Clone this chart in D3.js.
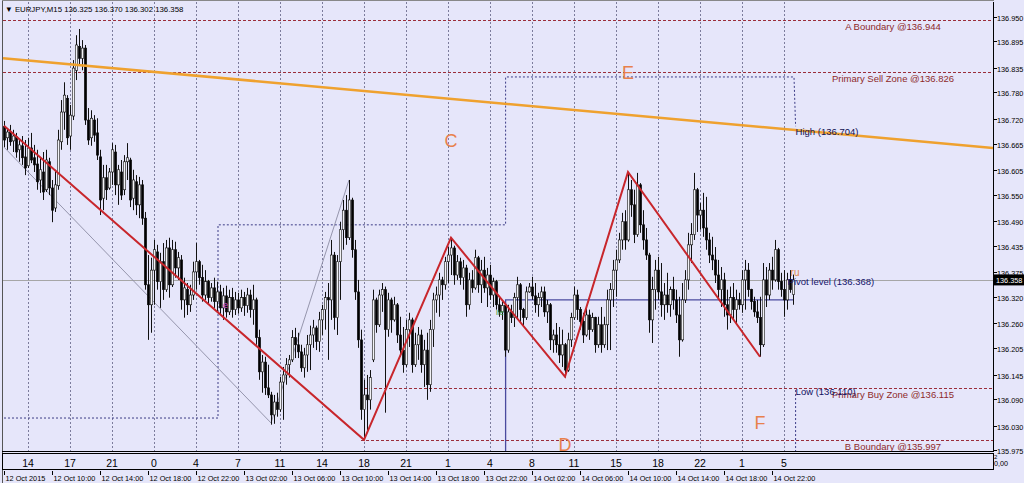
<!DOCTYPE html>
<html><head><meta charset="utf-8">
<script src="https://cdn.jsdelivr.net/npm/d3@7"></script>
<style>
body{margin:0;background:#E6E6FA;}
svg{display:block;font-family:"Liberation Sans",Arial,sans-serif;}
</style></head>
<body><svg id="chart" width="1024" height="483"></svg>
<script>
// ---------- DATA ----------
const symbol = "EURJPY,M15";
const candleStart = "2015-10-12T06:00:00Z";
const candleMinutes = 15;

const opens = [136.704,136.678,136.691,136.671,136.680,136.651,136.660,136.635,136.615,136.655,136.633,136.619,136.583,136.601,136.561,136.624,
136.565,136.520,136.570,136.669,136.736,136.767,136.682,136.727,136.830,136.884,136.857,136.880,136.718,136.678,136.718,136.689,
136.635,136.542,136.588,136.565,136.601,136.646,136.572,136.601,136.561,136.624,136.628,136.542,136.579,136.527,136.572,136.497,
136.347,136.302,136.380,136.421,136.354,136.399,136.336,136.430,136.347,136.426,136.385,136.403,136.313,136.336,136.302,136.324,
136.376,136.399,136.363,136.324,136.354,136.318,136.340,136.309,136.331,136.295,136.322,136.286,136.318,136.291,136.313,136.295,
136.318,136.300,136.324,136.291,136.313,136.228,136.151,136.173,136.115,136.099,136.054,136.083,136.066,136.128,136.144,136.167,
136.178,136.228,136.212,136.196,136.160,136.189,136.212,136.234,136.250,136.219,136.268,136.291,136.318,136.313,136.414,136.273,
136.399,136.471,136.515,136.453,136.538,136.426,136.331,136.223,136.066,136.099,136.088,136.178,136.313,136.257,136.324,136.336,
136.246,136.313,136.268,136.302,136.234,136.200,136.167,136.246,136.268,136.167,136.212,136.234,136.167,136.200,136.122,136.246,
136.313,136.324,136.358,136.347,136.399,136.414,136.430,136.369,136.399,136.363,136.385,136.302,136.358,136.340,136.408,136.347,
136.380,136.340,136.369,136.324,136.354,136.302,136.286,136.300,136.200,136.286,136.273,136.318,136.347,136.291,136.273,136.331,
136.342,136.322,136.302,136.318,136.331,136.286,136.302,136.223,136.234,136.212,136.189,136.212,136.155,136.223,136.273,136.324,
136.291,136.264,136.234,136.279,136.246,136.273,136.212,136.257,136.212,136.257,136.313,136.336,136.380,136.403,136.448,136.489,
136.448,136.561,136.527,136.460,136.572,136.482,136.448,136.414,136.268,136.336,136.380,136.331,136.302,136.324,136.302,136.336,
136.313,136.279,136.223,136.313,136.358,136.437,136.460,136.561,136.504,136.515,136.475,136.448,136.414,136.403,136.369,136.336,
136.358,136.302,136.279,136.318,136.291,136.313,136.302,136.358,136.380,136.336,136.309,136.286,136.273,136.212,136.358,136.324,
136.380,136.358,136.426,136.354,136.336,136.313,136.358,136.325];

const highs = [136.716,136.700,136.707,136.696,136.689,136.673,136.682,136.673,136.678,136.689,136.662,136.651,136.635,136.646,136.651,136.633,
136.583,136.606,136.696,136.763,136.803,136.774,136.752,136.853,136.909,136.923,136.898,136.887,136.745,136.740,136.729,136.722,
136.651,136.617,136.617,136.610,136.666,136.662,136.617,136.628,136.639,136.666,136.633,136.606,136.594,136.590,136.583,136.511,
136.414,136.408,136.448,136.437,136.419,136.441,136.448,136.453,136.448,136.444,136.421,136.414,136.363,136.351,136.347,136.399,
136.441,136.403,136.392,136.380,136.358,136.351,136.363,136.354,136.347,136.340,136.345,136.336,136.340,136.331,136.329,136.336,
136.331,136.340,136.336,136.347,136.318,136.246,136.189,136.185,136.167,136.106,136.099,136.104,136.140,136.162,136.182,136.189,
136.245,136.250,136.239,136.212,136.205,136.234,136.255,136.268,136.255,136.286,136.302,136.331,136.351,136.448,136.421,136.414,
136.489,136.538,136.549,136.583,136.543,136.448,136.358,136.246,136.133,136.144,136.155,136.336,136.318,136.336,136.351,136.343,
136.329,136.318,136.320,136.306,136.275,136.252,136.268,136.284,136.273,136.239,136.252,136.246,136.223,136.239,136.268,136.329,
136.343,136.374,136.365,136.410,136.432,136.453,136.435,136.414,136.408,136.403,136.392,136.374,136.380,136.426,136.412,136.403,
136.410,136.385,136.392,136.363,136.358,136.318,136.309,136.302,136.302,136.302,136.329,136.365,136.351,136.295,136.343,136.351,
136.365,136.351,136.329,136.343,136.343,136.313,136.306,136.246,136.261,136.252,136.246,136.216,136.239,136.284,136.343,136.336,
136.297,136.284,136.297,136.291,136.284,136.275,136.275,136.297,136.275,136.336,136.351,136.403,136.426,136.464,136.509,136.515,
136.601,136.583,136.561,136.599,136.576,136.515,136.475,136.419,136.365,136.403,136.410,136.396,136.351,136.374,136.343,136.365,
136.336,136.320,136.351,136.380,136.464,136.486,136.599,136.565,136.531,136.554,136.545,136.464,136.455,136.432,136.403,136.387,
136.374,136.336,136.343,136.351,136.336,136.329,136.380,136.403,136.396,136.338,136.320,136.313,136.320,136.396,136.387,136.396,
136.410,136.448,136.430,136.374,136.380,136.374,136.380,136.370];

const lows = [136.657,136.651,136.660,136.646,136.633,136.624,136.617,136.594,136.610,136.621,136.601,136.561,136.554,136.538,136.556,136.549,
136.488,136.511,136.561,136.651,136.696,136.662,136.651,136.718,136.808,136.842,136.830,136.707,136.662,136.660,136.669,136.628,
136.504,136.515,136.538,136.561,136.572,136.549,136.527,136.538,136.549,136.583,136.522,136.515,136.504,136.497,136.482,136.336,
136.223,136.239,136.302,136.336,136.295,136.313,136.331,136.318,136.342,136.363,136.358,136.291,136.273,136.279,136.286,136.313,
136.336,136.347,136.309,136.313,136.302,136.309,136.295,136.286,136.279,136.268,136.273,136.279,136.273,136.279,136.282,136.286,
136.277,136.284,136.273,136.257,136.212,136.133,136.104,136.099,136.092,136.032,136.034,136.050,136.061,136.043,136.122,136.138,
136.173,136.182,136.182,136.151,136.138,136.151,136.155,136.205,136.200,136.196,136.234,136.246,136.178,136.268,136.246,136.234,
136.313,136.426,136.437,136.448,136.408,136.313,136.205,136.043,135.998,136.020,136.066,136.173,136.239,136.252,136.286,136.059,
136.230,136.239,136.264,136.216,136.185,136.149,136.162,136.207,136.149,136.162,136.178,136.149,136.117,136.088,136.106,136.207,
136.284,136.275,136.313,136.336,136.351,136.369,136.347,136.358,136.347,136.336,136.275,136.291,136.329,136.336,136.329,136.306,
136.329,136.297,136.313,136.297,136.291,136.275,136.268,136.185,136.194,136.261,136.252,136.268,136.261,136.252,136.268,136.329,
136.313,136.284,136.275,136.297,136.275,136.261,136.200,136.194,136.194,136.171,136.162,136.138,136.151,136.207,136.268,136.268,
136.246,136.216,136.230,136.223,136.241,136.194,136.205,136.194,136.205,136.200,136.200,136.297,136.320,136.396,136.426,136.426,
136.444,136.500,136.441,136.455,136.464,136.426,136.403,136.239,136.216,136.291,136.313,136.275,136.268,136.284,136.275,136.291,
136.261,136.185,136.219,136.306,136.336,136.396,136.448,136.466,136.471,136.455,136.426,136.396,136.380,136.351,136.313,136.297,
136.275,136.246,136.261,136.268,136.261,136.291,136.284,136.291,136.320,136.291,136.275,136.261,136.185,136.207,136.297,136.313,
136.336,136.354,136.336,136.320,136.275,136.291,136.329,136.302];

const closes = [136.673,136.691,136.669,136.682,136.646,136.662,136.633,136.610,136.655,136.628,136.617,136.579,136.606,136.556,136.628,136.565,
136.515,136.572,136.673,136.736,136.774,136.678,136.729,136.835,136.887,136.857,136.880,136.718,136.673,136.722,136.684,136.639,
136.538,136.588,136.561,136.601,136.651,136.572,136.606,136.549,136.624,136.633,136.538,136.583,136.527,136.572,136.497,136.347,
136.302,136.380,136.426,136.354,136.399,136.336,136.430,136.347,136.426,136.385,136.408,136.313,136.340,136.302,136.324,136.376,
136.399,136.363,136.324,136.354,136.318,136.340,136.309,136.331,136.295,136.322,136.286,136.318,136.291,136.313,136.295,136.318,
136.300,136.324,136.291,136.313,136.228,136.151,136.173,136.115,136.099,136.054,136.083,136.066,136.128,136.144,136.167,136.178,
136.228,136.212,136.196,136.160,136.189,136.212,136.234,136.250,136.219,136.268,136.291,136.318,136.313,136.414,136.273,136.399,
136.471,136.515,136.453,136.538,136.426,136.331,136.223,136.066,136.099,136.088,136.138,136.313,136.257,136.324,136.336,136.246,
136.313,136.268,136.302,136.234,136.200,136.167,136.246,136.268,136.167,136.212,136.234,136.167,136.200,136.122,136.246,136.313,
136.324,136.358,136.347,136.399,136.414,136.430,136.369,136.399,136.363,136.385,136.302,136.358,136.340,136.408,136.347,136.380,
136.340,136.369,136.324,136.354,136.302,136.286,136.300,136.200,136.286,136.273,136.318,136.347,136.291,136.273,136.331,136.342,
136.322,136.302,136.318,136.331,136.286,136.302,136.223,136.234,136.212,136.189,136.212,136.155,136.223,136.273,136.324,136.291,
136.264,136.234,136.279,136.246,136.273,136.212,136.257,136.212,136.257,136.313,136.336,136.380,136.403,136.448,136.489,136.448,
136.561,136.527,136.460,136.572,136.482,136.448,136.414,136.268,136.336,136.380,136.331,136.302,136.324,136.302,136.336,136.313,
136.279,136.223,136.313,136.358,136.437,136.460,136.561,136.504,136.515,136.475,136.448,136.414,136.403,136.369,136.336,136.358,
136.302,136.279,136.318,136.291,136.313,136.302,136.358,136.380,136.336,136.309,136.286,136.273,136.212,136.358,136.324,136.380,
136.358,136.426,136.354,136.336,136.313,136.358,136.336,136.358];

// price axis
const priceTicks = [136.950,136.895,136.835,136.780,136.720,136.665,136.605,136.550,136.490,136.435,136.375,136.320,136.260,136.205,136.145,136.090,136.030,135.975];
// hour labels of the custom hour-strip indicator, at chart times
const hourTickTimes = ["2015-10-12T08:00","2015-10-12T11:30","2015-10-12T15:00","2015-10-12T18:30","2015-10-12T22:00","2015-10-13T01:30","2015-10-13T05:00","2015-10-13T08:30","2015-10-13T12:00","2015-10-13T15:30","2015-10-13T19:00","2015-10-13T22:30","2015-10-14T02:00","2015-10-14T05:30","2015-10-14T09:00","2015-10-14T12:30","2015-10-14T16:00","2015-10-14T19:30","2015-10-14T23:00"];
const hourTickLabels = ["14","17","21","0","4","7","11","14","18","21","1","4","8","11","15","18","22","1","5"];
// date axis
const dateTickTimes = ["2015-10-12T06:00","2015-10-12T10:00","2015-10-12T14:00","2015-10-12T18:00","2015-10-12T22:00","2015-10-13T02:00","2015-10-13T06:00","2015-10-13T10:00","2015-10-13T14:00","2015-10-13T18:00","2015-10-13T22:00","2015-10-14T02:00","2015-10-14T06:00","2015-10-14T10:00","2015-10-14T14:00","2015-10-14T18:00","2015-10-14T22:00"];
const dateTickLabels = ["12 Oct 2015","12 Oct 10:00","12 Oct 14:00","12 Oct 18:00","12 Oct 22:00","13 Oct 02:00","13 Oct 06:00","13 Oct 10:00","13 Oct 14:00","13 Oct 18:00","13 Oct 22:00","14 Oct 02:00","14 Oct 06:00","14 Oct 10:00","14 Oct 14:00","14 Oct 18:00","14 Oct 22:00"];

// horizontal levels
const levelNames = ["A Boundary","Primary Sell Zone","Primary Buy Zone","B Boundary"];
const levelPrices = [136.944,136.826,136.115,135.997];
const levelStarts = [null,null,"2015-10-13T12:00","2015-10-13T11:45"];

// drawn objects (time, price)
const trendLine = [["2015-10-12T06:00",136.857],["2015-10-15T16:00",136.656]];
const zigzag = [["2015-10-12T06:00",136.705],["2015-10-13T12:00",135.998],["2015-10-13T19:15",136.453],["2015-10-14T04:45",136.140],["2015-10-14T10:00",136.601],["2015-10-14T21:00",136.185]];
const thinZig = [["2015-10-12T06:00",136.657],["2015-10-13T04:15",136.036],["2015-10-13T10:45",136.583]];
const highStair = [["2015-10-12T05:00",136.047],["2015-10-12T23:50",136.047],["2015-10-12T23:50",136.482],["2015-10-13T23:48",136.482],["2015-10-13T23:48",136.815],["2015-10-14T23:50",136.815],["2015-10-14T23:58",136.704]];
const lowStair = [["2015-10-13T23:48",135.900],["2015-10-13T23:48",136.313],["2015-10-14T23:50",136.313]];
const lowDrop = [["2015-10-14T23:58",136.110],["2015-10-14T23:58",135.900]];
const highLevel = 136.704, lowLevel = 136.110, pivotLevel = 136.368;
const waveLetters = ["C","E","D","F"];
const waveTimes = ["2015-10-13T19:15","2015-10-14T10:00","2015-10-14T04:45","2015-10-14T21:00"];
const wavePrices = [136.673,136.824,135.987,136.036];

// ---------- CHART ----------
const svg = d3.select("#chart");
const P = {l:3, r:993, t:2, b:451};
const T = s => new Date(s.length<=16 ? s+":00Z" : s);
const x = d3.scaleUtc().domain([T("2015-10-12T06:00"), T("2015-10-15T00:00")]).range([4, 796]);
const y = d3.scaleLinear().domain([135.975,136.950]).range([450,17]);
const t0 = new Date(candleStart).getTime();
const candles = opens.map((o,i)=>({t:new Date(t0+i*candleMinutes*60000), o, h:highs[i], l:lows[i], c:closes[i]}));

svg.append("rect").attr("width",1024).attr("height",483).attr("fill","#E6E6FA");
svg.append("defs").append("clipPath").attr("id","clip").append("rect")
  .attr("x",P.l).attr("y",P.t).attr("width",P.r-P.l).attr("height",P.b-P.t);
const g = svg.append("g").attr("clip-path","url(#clip)");

// grid (vertical, dotted)
g.selectAll(".vg").data(hourTickTimes).join("line")
  .attr("x1",d=>Math.round(x(T(d)))+0.5).attr("x2",d=>Math.round(x(T(d)))+0.5)
  .attr("y1",P.t).attr("y2",P.b).attr("stroke","#7c7c9c").attr("stroke-dasharray","2,2");

// level lines
levelPrices.forEach((p,i)=>{
  const x1 = levelStarts[i] ? x(T(levelStarts[i])) : P.l;
  const yy = Math.round(y(p))+0.5;
  g.append("line").attr("x1",x1).attr("x2",P.r).attr("y1",yy).attr("y2",yy)
   .attr("stroke","#9b2d3a").attr("stroke-dasharray","3,2");
});

// current price line
g.append("line").attr("x1",P.l).attr("x2",P.r)
  .attr("y1",Math.round(y(closes[closes.length-1]))+0.5).attr("y2",Math.round(y(closes[closes.length-1]))+0.5)
  .attr("stroke","#a6a6a6");

const line = d3.line().x(d=>x(T(d[0]))).y(d=>y(d[1]));
g.append("path").attr("d",line(highStair)).attr("fill","none").attr("stroke","#3c3c86").attr("stroke-dasharray","2,2");
g.append("path").attr("d",line(lowStair)).attr("fill","none").attr("stroke","#4a4a9e").attr("stroke-width",1.3);
g.append("path").attr("d",line(lowDrop)).attr("fill","none").attr("stroke","#3c3c86").attr("stroke-dasharray","2,2");

// thin zigzag
g.append("path").attr("d",line(thinZig)).attr("fill","none").attr("stroke","#8c8ca4").attr("stroke-width",0.9);

// candles
const cg = g.append("g");
cg.selectAll(".w").data(candles).join("line")
  .attr("x1",d=>Math.round(x(d.t))+0.5).attr("x2",d=>Math.round(x(d.t))+0.5)
  .attr("y1",d=>y(d.h)).attr("y2",d=>y(d.l)).attr("stroke","#111").attr("stroke-width",1);
cg.selectAll(".b").data(candles).join("rect")
  .attr("x",d=>Math.round(x(d.t))+0.5-1.2).attr("width",2.4)
  .attr("y",d=>y(Math.max(d.o,d.c)))
  .attr("height",d=>Math.max(Math.abs(y(d.o)-y(d.c)),0.8))
  .attr("fill",d=>d.c>=d.o?"#f2f2f6":"#000").attr("stroke","#111").attr("stroke-width",0.6);

// orange trend line (extended to both edges)
{
  const xa=x(T(trendLine[0][0])), ya=y(trendLine[0][1]), xb=x(T(trendLine[1][0])), yb=y(trendLine[1][1]);
  const s=(yb-ya)/(xb-xa);
  g.append("line").attr("x1",P.l).attr("y1",ya+s*(P.l-xa)).attr("x2",P.r).attr("y2",ya+s*(P.r-xa))
   .attr("stroke","#efa12e").attr("stroke-width",2.6);
}
// red zigzag
g.append("path").attr("d",line(zigzag)).attr("fill","none").attr("stroke","#c8262c").attr("stroke-width",2);

// level labels
levelPrices.forEach((p,i)=>{
  g.append("text").attr("x",893).attr("y",y(p)+10).attr("text-anchor","middle")
   .attr("font-size",9.5).attr("fill","#8e2a2a").text(`${levelNames[i]} @${p.toFixed(3)}`);
});
const xEnd = x(T("2015-10-14T23:58"));
g.append("text").attr("x",xEnd).attr("y",y(highLevel)+8.5).attr("font-size",9.5).attr("fill","#101050").text(`High (${highLevel.toFixed(3)})`);
g.append("text").attr("x",xEnd).attr("y",y(lowLevel)+5).attr("font-size",9.5).attr("fill","#101060").text(`Low (${lowLevel.toFixed(3)})`);
g.append("text").attr("x",xEnd-5).attr("y",y(pivotLevel)+1).attr("font-size",10).attr("fill","#e0884a").text("ru");
g.append("text").attr("x",xEnd-8).attr("y",y(pivotLevel)+10).attr("font-size",9.5).attr("fill","#14146a").text(`Pivot level (${pivotLevel.toFixed(3)})`);
g.append("text").attr("x",x(T("2015-10-13T00:15"))).attr("y",y(136.295)).attr("font-size",9).attr("fill","#cc44cc").text("e");
g.append("text").attr("x",x(T("2015-10-13T23:00"))).attr("y",y(136.280)).attr("font-size",8).attr("fill","#3c9a3c").text("lie");

// wave letters
waveLetters.forEach((L,i)=>{
  g.append("text").attr("x",x(T(waveTimes[i]))).attr("y",y(wavePrices[i])+6.5).attr("text-anchor","middle")
   .attr("font-size",18).attr("fill","#e8804c").text(L);
});

// header
const last = candles[candles.length-1];
svg.append("text").attr("x",5).attr("y",12).attr("font-size",7.8).attr("fill","#000")
  .text(`\u25BC ${symbol}  ${last.o.toFixed(3)} ${last.h.toFixed(3)} ${last.l.toFixed(3)} ${last.c.toFixed(3)}`);

// frames
svg.append("line").attr("x1",2.5).attr("x2",2.5).attr("y1",0).attr("y2",483).attr("stroke","#555");
svg.append("line").attr("x1",P.r+0.5).attr("x2",P.r+0.5).attr("y1",P.t).attr("y2",P.b+1).attr("stroke","#000");
svg.append("line").attr("x1",2).attr("x2",P.r+1).attr("y1",P.b+0.5).attr("y2",P.b+0.5).attr("stroke","#000");
svg.append("line").attr("x1",2).attr("x2",P.r+1).attr("y1",0.5).attr("y2",0.5).attr("stroke","#888");
svg.append("rect").attr("x",2.5).attr("y",453.5).attr("width",P.r-2).attr("height",16).attr("fill","none").attr("stroke","#000");

// price axis
const ax = svg.append("g");
priceTicks.forEach(v=>{
  const yy=Math.round(y(v))+0.5;
  ax.append("line").attr("x1",P.r).attr("x2",P.r+4).attr("y1",yy).attr("y2",yy).attr("stroke","#000");
  ax.append("text").attr("x",997).attr("y",yy+3).attr("font-size",7.3).attr("fill","#000").text(v.toFixed(3));
});
{
  const yy=y(last.c);
  ax.append("rect").attr("x",P.r+1).attr("y",yy-5.5).attr("width",30).attr("height",11).attr("fill","#000");
  ax.append("text").attr("x",996).attr("y",yy+3).attr("font-size",7.3).attr("fill","#fff").text(last.c.toFixed(3));
}
svg.append("text").attr("x",994).attr("y",459).attr("font-size",6).attr("fill","#000").text("2");
svg.append("text").attr("x",994).attr("y",466).attr("font-size",7.2).attr("fill","#000").text("0,00");

// hour strip labels
hourTickTimes.forEach((t,i)=>{
  svg.append("text").attr("x",x(T(t))).attr("y",466.5).attr("text-anchor","middle")
    .attr("font-size",10.5).attr("fill","#000").text(hourTickLabels[i]);
});
// date axis
dateTickTimes.forEach((t,i)=>{
  const xx=Math.round(x(T(t)))+0.5;
  svg.append("line").attr("x1",xx).attr("x2",xx).attr("y1",471).attr("y2",475).attr("stroke","#000");
  svg.append("text").attr("x",xx+1).attr("y",481).attr("font-size",7.3).attr("fill","#000").text(dateTickLabels[i]);
});
</script>
</body></html>
